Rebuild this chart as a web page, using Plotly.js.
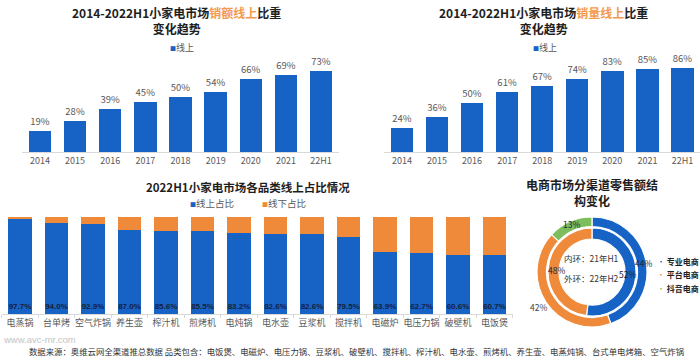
<!DOCTYPE html>
<html><head><meta charset="utf-8">
<script src="https://cdn.plot.ly/plotly-3.0.1.min.js"></script>
<style>html,body{margin:0;padding:0;background:#fff;} #chart{width:700px;height:358px;}</style>
</head><body><div id="chart"></div>
<script>
// ---- data ----
const years = ['2014','2015','2016','2017','2018','2019','2020','2021','22H1'];
const onlineSalesShare = [19,28,39,45,50,54,66,69,73];
const onlineVolumeShare = [24,36,50,61,67,74,83,85,86];
const categories = ['电蒸锅','台单烤','空气炸锅','养生壶','榨汁机','煎烤机','电炖锅','电水壶','豆浆机','搅拌机','电磁炉','电压力锅','破壁机','电饭煲'];
const onlineShare = [97.7,94.0,92.9,87.0,85.6,85.5,83.2,82.6,82.6,79.5,63.9,62.7,60.6,60.7];
const offlineShare = [2.3,6.0,7.1,13.0,14.4,14.5,16.8,17.4,17.4,20.5,36.1,37.3,39.4,39.3];
const channels = ['专业电商','平台电商','抖音电商'];
const inner21H1 = [52,48];
const outer22H1 = [44,42,13];

// ---- styling ----
const W = 700, H = 358;
const px = x => x / W;
const py = y => 1 - y / H;
const BLUE = '#1763C5', ORANGE = '#EF8A3A', GREEN = '#7DBE5C';
const FONT = 'Noto Sans CJK SC, sans-serif';

const traces = [
  {type:'bar', x:years, y:onlineSalesShare, xaxis:'x', yaxis:'y', marker:{color:BLUE},
   text:onlineSalesShare.map(v=>v+'%'), textposition:'outside', cliponaxis:false,
   textfont:{size:9.5,color:'#595959',family:FONT}, hoverinfo:'skip', showlegend:false},
  {type:'bar', x:years, y:onlineVolumeShare, xaxis:'x2', yaxis:'y2', marker:{color:BLUE},
   text:onlineVolumeShare.map(v=>v+'%'), textposition:'outside', cliponaxis:false,
   textfont:{size:9.5,color:'#595959',family:FONT}, hoverinfo:'skip', showlegend:false},
  {type:'bar', x:categories, y:onlineShare, xaxis:'x3', yaxis:'y3', marker:{color:BLUE},
   text:onlineShare.map(v=>v.toFixed(1)+'%'), textposition:'inside', insidetextanchor:'start',
   textangle:0, constraintext:'none',
   textfont:{size:8,color:'#16203d',family:'Liberation Sans, Arial, sans-serif',weight:'bold'},
   hoverinfo:'skip', showlegend:false},
  {type:'bar', x:categories, y:offlineShare, xaxis:'x3', yaxis:'y3', marker:{color:ORANGE},
   hoverinfo:'skip', showlegend:false},
];

// donut geometry (pixels)
const cx = 592, cy = 272, rOuter = 55, rInner = 44;
traces.push({type:'pie', values:outer22H1, labels:channels, sort:false, direction:'clockwise', rotation:0,
  hole:45.5/55, marker:{colors:[BLUE,ORANGE,GREEN], line:{color:'#fff', width:1.2}},
  textinfo:'none', hoverinfo:'skip', showlegend:false,
  domain:{x:[px(cx-rOuter), px(cx+rOuter)], y:[py(cy+rOuter), py(cy-rOuter)]}});
traces.push({type:'pie', values:inner21H1, labels:channels.slice(0,2), sort:false, direction:'clockwise', rotation:0,
  hole:33/44, marker:{colors:[BLUE,ORANGE], line:{color:'#fff', width:1.2}},
  textinfo:'none', hoverinfo:'skip', showlegend:false,
  domain:{x:[px(cx-rInner), px(cx+rInner)], y:[py(cy+rInner), py(cy-rInner)]}});

const annotations = [];
function ann(x, y, text, opts) {
  annotations.push(Object.assign({xref:'paper', yref:'paper', x:px(x), y:py(y), text:text,
    showarrow:false, xanchor:'center', yanchor:'middle',
    font:{family:FONT, size:9, color:'#333'}}, opts||{}));
}
// donut labels computed from data
function ringLabels(vals, r, outsideIdx, rOut, size) {
  const total = vals.reduce((a,b)=>a+b,0);
  let cum = 0;
  vals.forEach((v,i)=>{
    const mid = (cum + v/2) / total * 2 * Math.PI;
    cum += v;
    const rr = (outsideIdx === i) ? rOut : r;
    ann(cx + rr*Math.sin(mid), cy - rr*Math.cos(mid), v+'%',
      {font:{family:FONT, size:size, color: outsideIdx===i ? '#444' : '#1b2440'}});
  });
}
ringLabels(outer22H1, 52, 1, 64, 8.5);
ringLabels(inner21H1, 36, -1, 0, 8.5);

// titles
const tfont = s => ({family:FONT, size:s, color:'#1e1e1e'});
ann(177, 20, "<b>2014-2022H1小家电市场<span style='color:#F39A4E'>销额线上</span>比重<br>变化趋势</b>", {font:tfont(12)});
ann(543, 20, "<b>2014-2022H1小家电市场<span style='color:#F39A4E'>销量线上</span>比重<br>变化趋势</b>", {font:tfont(12)});
ann(248, 187, "<b>2022H1小家电市场各品类线上占比情况</b>", {font:tfont(11.5)});
ann(592, 192.5, "<b>电商市场分渠道零售额结<br>构变化</b>", {font:tfont(12)});

// legends
const sq = c => "<span style='color:"+c+";font-size:6px'>■</span>";
ann(168, 48, sq(BLUE)+"线上", {xanchor:'left', font:{family:FONT,size:9,color:'#595959'}});
ann(531, 48, sq(BLUE)+"线上", {xanchor:'left', font:{family:FONT,size:9,color:'#595959'}});
ann(188, 203, sq(BLUE)+"线上占比", {xanchor:'left', font:{family:FONT,size:9.5,color:'#595959'}});
ann(260, 203, sq(ORANGE)+"线下占比", {xanchor:'left', font:{family:FONT,size:9.5,color:'#595959'}});
[BLUE, ORANGE, GREEN].forEach((c,i)=>{
  ann(655, 261 + i*13.5, "<span style='color:"+c+"'>•</span> <b>"+channels[i]+"</b>",
      {xanchor:'left', font:{family:FONT,size:8,color:'#222'}});
});

// donut centre text
ann(591, 258, "内环：21年H1", {font:{family:FONT,size:8.5,color:'#333'}});
ann(591, 278, "外环：22年H2", {font:{family:FONT,size:8.5,color:'#333'}});

// footer
ann(1, 339.5, "www.avc-mr.com", {xanchor:'left', font:{family:'Liberation Sans, Arial, sans-serif',size:9.5,color:'#c4c4c4'}});
ann(27, 350.5, "数据来源：奥维云网全渠道推总数据 品类包含：电饭煲、电磁炉、电压力锅、豆浆机、破壁机、搅拌机、榨汁机、电水壶、煎烤机、养生壶、电蒸炖锅、台式单电烤箱、空气炸锅",
    {xanchor:'left', font:{family:FONT,size:8.4,color:'#333'}});

const xcommon = {type:'category', showline:true, linecolor:'#d9d9d9', linewidth:1, ticks:'',
  tickangle:0, showgrid:false, zeroline:false, fixedrange:true, tickfont:{family:FONT,size:9,color:'#595959'}};
const ycommon = {visible:false, showgrid:false, zeroline:false, fixedrange:true};

const layout = {
  width:W, height:H, autosize:false,
  margin:{l:0,r:0,t:0,b:0,pad:0},
  paper_bgcolor:'#fff', plot_bgcolor:'rgba(0,0,0,0)',
  barmode:'stack', bargap:0.36,
  showlegend:false,
  font:{family:FONT},
  xaxis: Object.assign({}, xcommon, {domain:[px(22.4), px(338.6)], anchor:'y'}),
  yaxis: Object.assign({}, ycommon, {domain:[py(152), py(152-88.8)], range:[0,80], anchor:'x'}),
  xaxis2: Object.assign({}, xcommon, {domain:[px(384.4), px(700)], anchor:'y2'}),
  yaxis2: Object.assign({}, ycommon, {domain:[py(152), py(152-88.2)], range:[0,90], anchor:'x2'}),
  xaxis3: Object.assign({}, xcommon, {domain:[px(1.75), px(512.75)], anchor:'y3',
           ticks:'outside', tickson:'boundaries', ticklen:3, tickcolor:'#d9d9d9',
           tickfont:{family:FONT,size:9,color:'#595959'}}),
  yaxis3: Object.assign({}, ycommon, {domain:[py(314), py(217)], range:[0,100], anchor:'x3'}),
  annotations: annotations
};

Plotly.newPlot('chart', traces, layout, {staticPlot:true, displayModeBar:false});
</script>
</body></html>
